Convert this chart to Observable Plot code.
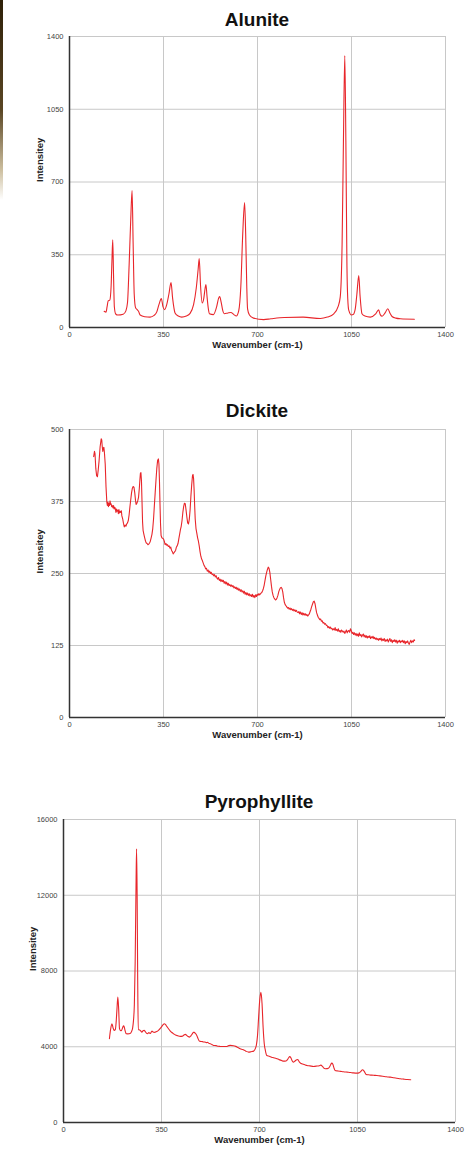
<!DOCTYPE html>
<html><head><meta charset="utf-8">
<script src="https://cdn.jsdelivr.net/npm/d3@7"></script>
<script src="https://cdn.jsdelivr.net/npm/@observablehq/plot@0.6"></script>
<style>
body{margin:0;background:#fff;width:473px;height:1163px;position:relative;overflow:hidden;font-family:"Liberation Sans",Arial,sans-serif}
.title{position:absolute;text-align:center;font-weight:bold;font-size:19px;line-height:19px;color:#111}
.chart{position:absolute;left:0}
.chart svg{display:block}
.strip{position:absolute;left:0;top:0;width:3px;height:200px;background:linear-gradient(to bottom,#2e2008,#5a4624 55%,#cdbf9f 85%,rgba(255,255,255,0))}
</style></head><body>
<div class="strip"></div>
<script>
const titles = ["Alunite", "Dickite", "Pyrophyllite"];
const xLabel = "Wavenumber (cm-1)";
const yLabel = "Intensitey";
const xTicks = [0, 350, 700, 1050, 1400];
const aluniteTicks = [0, 350, 700, 1050, 1400];
const dickiteTicks = [0, 125, 250, 375, 500];
const pyroTicks = [0, 4000, 8000, 12000, 16000];

const aluniteX = [129,136,140,144,150,155,158,161,164,167,172,180,200,210,216,222,228,233,237,241,246,252,257,263,280,300,315,325,333,342,348,354,362,370,378,384,393,405,418,435,449,462,472,479,483,488,494,500,505,508,512,517,521,536,548,555,559,565,571,576,590,601,612,621,630,638,645,652,656,660,663,670,685,723,750,800,870,934,960,984,1000,1008,1015,1020,1025,1029,1033,1036,1040,1050,1056,1064,1070,1077,1082,1089,1100,1120,1140,1151,1157,1164,1175,1185,1193,1201,1215,1232,1284];
const aluniteY = [78,74,100,128,132,200,320,422,250,100,65,60,64,80,120,300,520,659,400,160,95,86,78,60,52,50,58,75,110,139,100,86,110,160,216,140,70,55,50,55,68,110,190,280,332,200,118,140,190,207,150,90,66,62,100,140,149,120,80,66,70,72,62,55,80,200,450,601,450,200,90,60,45,38,42,48,50,43,50,66,100,146,400,900,1308,900,300,140,82,60,62,90,160,250,150,66,55,50,65,85,62,54,70,90,70,53,45,42,40];

const dickiteX = [90,93,95,98,101,104,107,110,114,118,120,122,124,126,128,130,133,136,139,141,143,145,147,149,151,153,155,157,159,162,164,166,168,170,173,175,177,180,182,184,186,188,191,193,195,198,201,204,207,210,213,216,219,222,225,228,231,234,237,240,243,246,248,251,254,257,260,262,264,266,268,270,272,274,277,280,283,286,289,292,295,298,301,304,307,310,313,316,319,322,325,328,331,333,335,337,339,341,344,347,350,353,356,359,362,365,368,371,374,377,380,383,386,389,392,395,398,401,404,407,410,413,416,419,422,425,428,431,434,437,440,443,446,449,452,455,458,460,462,464,466,468,471,474,477,480,483,486,489,492,495,498,501,504,507,510,513,516,519,522,525,528,531,534,537,540,543,546,549,552,555,558,561,564,567,570,573,576,579,582,585,588,591,594,597,600,603,606,609,612,615,618,621,624,627,630,633,636,639,642,645,648,651,654,657,660,663,666,669,672,675,678,681,684,687,690,693,696,699,702,705,708,710,713,716,719,722,725,728,731,734,737,740,743,746,749,752,755,758,761,764,767,770,773,776,779,782,785,788,791,794,797,800,803,806,809,812,815,818,821,824,827,830,833,836,839,842,845,848,851,854,857,860,863,866,869,872,875,878,881,884,887,890,893,896,899,902,905,908,911,914,917,920,923,926,929,932,935,938,941,944,947,950,953,956,959,962,965,968,971,974,977,980,983,986,989,992,995,998,1001,1004,1007,1010,1013,1016,1019,1022,1025,1028,1031,1034,1037,1040,1043,1046,1049,1052,1055,1058,1061,1064,1067,1070,1073,1076,1079,1082,1085,1088,1091,1094,1097,1100,1103,1106,1109,1112,1115,1118,1121,1124,1127,1130,1133,1136,1139,1142,1145,1148,1151,1154,1157,1160,1163,1166,1169,1172,1175,1178,1181,1184,1187,1190,1193,1196,1199,1202,1205,1208,1211,1214,1217,1220,1223,1226,1229,1232,1235,1238,1241,1244,1247,1250,1253,1256,1259,1262,1265,1268,1271,1274,1277,1280,1283,1285];
const dickiteY = [453,462,458,432,420,418,430,445,470,484,482,470,462,468,469,460,440,400,374,368,374,366,372,368,376,370,371,366,368,364,368,362,365,364,356,362,358,360,354,361,355,358,356,359,350,345,337,331,334,332,336,338,342,352,366,378,390,398,401,400,390,376,370,372,376,382,398,412,424,425,410,375,340,325,318,312,306,303,302,300,301,303,306,312,318,328,345,368,390,412,432,446,449,440,410,370,335,316,312,311,310,306,300,302,299,300,297,298,294,296,290,288,284,286,288,290,296,298,302,310,318,326,332,342,356,366,372,371,360,348,338,336,344,360,384,404,420,422,415,395,368,345,328,320,312,306,298,288,280,275,272,268,264,262,258,259,254,256,252,254,250,252,248,249,246,248,244,246,242,240,243,238,240,236,239,236,238,233,236,232,235,230,233,229,231,228,230,227,229,225,227,224,226,222,225,221,223,219,222,218,220,216,219,214,217,213,216,212,215,211,213,210,214,209,212,208,213,210,214,212,215,213,214,216,217,220,224,230,238,246,252,257,261,259,252,240,228,218,212,208,206,204,205,208,212,218,222,225,226,224,218,208,200,196,194,192,190,191,188,190,187,189,186,188,185,187,184,186,183,182,184,180,183,179,182,178,181,178,180,177,179,176,178,180,184,188,193,197,201,202,198,190,182,178,174,172,170,171,167,168,164,165,162,163,160,160,156,158,155,157,154,155,152,154,152,156,151,153,150,154,149,151,148,152,150,148,150,146,149,152,147,150,151,148,154,151,146,148,144,147,143,146,142,145,141,147,142,144,140,143,145,140,143,139,142,138,141,139,142,137,140,138,141,137,139,136,138,135,137,134,137,135,138,133,136,134,137,132,135,133,136,131,134,137,132,135,130,134,132,135,131,134,129,133,131,134,130,133,131,134,130,133,128,132,130,133,129,127,131,134,130,133,131,135,134];

const pyroX = [164,168,173,177,181,185,188,191,194,197,200,204,207,211,214,217,220,224,230,238,243,247,250,253,256,259,261,263,265,267,270,275,280,284,288,292,296,300,305,310,316,320,324,327,333,340,345,350,355,360,364,369,375,380,387,393,400,408,417,425,430,435,440,445,450,455,460,464,467,471,476,480,485,490,496,500,506,510,514,518,524,530,536,545,552,560,570,584,590,596,607,615,623,631,640,650,661,670,679,685,689,693,697,701,705,709,713,717,721,726,735,743,750,760,770,778,786,795,800,804,808,812,816,821,827,833,837,842,847,851,860,870,880,893,905,913,919,925,930,935,941,946,951,955,958,962,966,970,980,990,1000,1012,1025,1035,1048,1055,1062,1068,1074,1081,1090,1100,1110,1119,1130,1140,1150,1160,1167,1180,1190,1203,1215,1228,1240];
const pyroY = [4424,4900,5217,5000,4863,4900,5300,6000,6624,6000,4953,4850,4863,5000,5100,5040,4850,4688,4680,4700,4800,5000,5392,6200,8500,12500,14447,12000,7500,4900,4900,4850,4773,4850,4863,4800,4720,4688,4750,4700,4826,4780,4760,4770,4800,4880,4953,5050,5150,5217,5180,5075,4950,4850,4750,4688,4620,4580,4546,4560,4620,4652,4600,4540,4509,4580,4680,4760,4757,4700,4599,4450,4298,4280,4270,4250,4245,4220,4240,4192,4160,4120,4070,4060,4030,4017,4010,4017,4060,4070,4054,4020,3960,3896,3850,3780,3716,3740,3769,3900,4100,4600,5600,6500,6872,6300,5000,4160,3800,3542,3500,3450,3420,3380,3320,3280,3240,3250,3320,3420,3480,3420,3280,3188,3250,3314,3320,3200,3130,3103,3060,3010,2990,2960,2980,3000,3029,2960,2870,2838,2845,2860,2960,3080,3135,3080,2880,2749,2720,2700,2680,2660,2640,2620,2606,2620,2700,2786,2700,2537,2520,2500,2490,2484,2460,2440,2420,2400,2395,2360,2340,2310,2290,2270,2257];

const RED = "#e8262b";
const GRID = "#c8c8c8";
const AXIS = "#333";
const fmt = d3.format("d");

function makeChart({title, xs, ys, yMax, yTicks, top, height, marginTop, marginLeft, marginRight, titleBaseline, curve, yLabelDx}) {
  const data = xs.map((x, i) => ({x, y: ys[i]}));
  const svg = Plot.plot({
    width: 473, height, marginTop, marginBottom: 33, marginLeft, marginRight,
    style: {fontFamily: '"Liberation Sans", Arial, sans-serif', fontSize: "7.5px", color: "#444", background: "transparent", overflow: "visible"},
    x: {domain: [0, 1400]},
    y: {domain: [0, yMax]},
    marks: [
      Plot.gridX(xTicks, {stroke: GRID, strokeOpacity: 1, strokeWidth: 1}),
      Plot.gridY(yTicks, {stroke: GRID, strokeOpacity: 1, strokeWidth: 1}),
      Plot.line(data, {x: "x", y: "y", stroke: RED, strokeWidth: 1.1, curve}),
      Plot.ruleX([0], {stroke: AXIS, strokeWidth: 1.5}),
      Plot.ruleY([0], {stroke: AXIS, strokeWidth: 1.5}),
      Plot.axisX(xTicks, {tickSize: 0, tickPadding: 4.5, label: null, fill: "#444", fontSize: 7.5, tickFormat: fmt}),
      Plot.axisY(yTicks, {tickSize: 0, tickPadding: 6, label: null, fill: "#444", fontSize: 7.5, tickFormat: fmt}),
      Plot.text([xLabel], {text: d => d, frameAnchor: "bottom", dy: 20, fontWeight: "bold", fontSize: 9.5, fill: "#222"}),
      Plot.text([yLabel], {text: d => d, frameAnchor: "left", dx: yLabelDx, rotate: -90, fontWeight: "bold", fontSize: 9.5, fill: "#222"})
    ]
  });
  const wrap = document.createElement("div");
  wrap.className = "chart";
  wrap.style.top = top + "px";
  wrap.appendChild(svg);
  document.body.appendChild(wrap);
  const t = document.createElement("div");
  t.className = "title";
  t.textContent = title;
  t.style.left = marginLeft + "px";
  t.style.width = (473 - marginLeft - marginRight) + "px";
  t.style.top = (titleBaseline - 16) + "px";
  document.body.appendChild(t);
}

makeChart({title: titles[0], xs: aluniteX, ys: aluniteY, yMax: 1400, yTicks: aluniteTicks, top: 30, height: 330, marginTop: 6, marginLeft: 69, marginRight: 28, titleBaseline: 26, curve: "monotone-x", yLabelDx: -30});
makeChart({title: titles[1], xs: dickiteX, ys: dickiteY, yMax: 500, yTicks: dickiteTicks, top: 420, height: 330, marginTop: 9, marginLeft: 69, marginRight: 28, titleBaseline: 417, curve: "linear", yLabelDx: -30});
makeChart({title: titles[2], xs: pyroX, ys: pyroY, yMax: 16000, yTicks: pyroTicks, top: 810, height: 345, marginTop: 9, marginLeft: 63, marginRight: 18, titleBaseline: 808, curve: "monotone-x", yLabelDx: -31});
</script>
</body></html>
